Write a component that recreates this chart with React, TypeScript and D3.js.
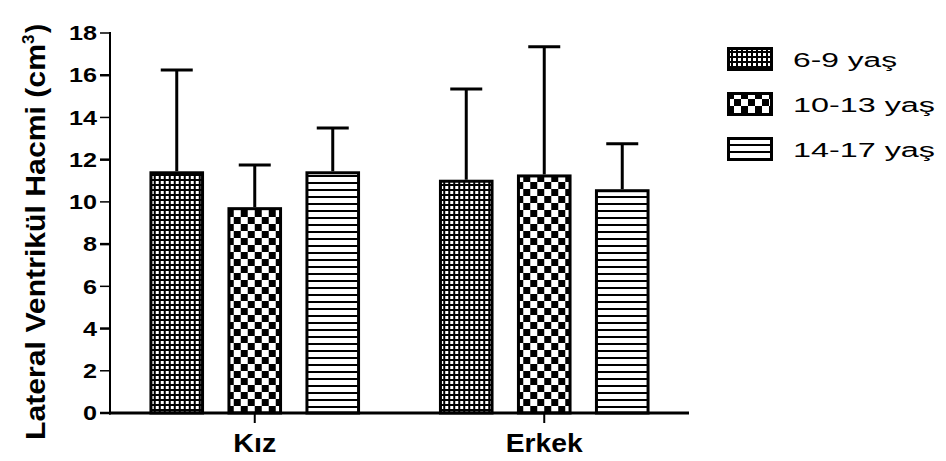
import React from 'react';
import * as d3 from 'd3';

const groups = ['Kız', 'Erkek'];
const ageGroups = ['6-9 yaş', '10-13 yaş', '14-17 yaş'];
// means and upper error (mean + SD) per group, in ageGroups order
const meanKiz = [11.45, 9.75, 11.45];
const meanErkek = [11.05, 11.3, 10.6];
const errKiz = [16.25, 11.75, 13.5];
const errErkek = [15.35, 17.35, 12.75];
const yTicks = [0, 2, 4, 6, 8, 10, 12, 14, 16, 18];

const means = [meanKiz, meanErkek];
const errs = [errKiz, errErkek];
const patternIds = ['pat-dots', 'pat-check', 'pat-lines'];

const W = 946;
const H = 461;
const margin = { top: 33, left: 110, bottom: 48 };
const plotRight = 689;

// the reference text is drawn wider than the font, so widths are forced
const groupLabelW: Record<string, number> = { 'Kız': 43, 'Erkek': 77 };
const legendLabelW = [104, 142, 142];

export default function App() {
  const y = d3.scaleLinear().domain([0, 18]).range([H - margin.bottom, margin.top]);
  const x0 = d3.scaleBand().domain(groups).range([margin.left, plotRight]).padding(0);
  const x1 = d3.scaleBand().domain(ageGroups).range([-117, 117]).paddingInner(0.3).paddingOuter(0.15);
  const y0 = y(0);

  return (
    <svg width={W} height={H} style={{ position: 'absolute', left: 0, top: 0, background: '#fff' }}
      fontFamily="'Liberation Sans', Arial, sans-serif">
      <defs>
        <pattern id="pat-dots" width={5} height={5} patternUnits="userSpaceOnUse">
          <rect width={5} height={5} fill="#000" />
          <rect x={1} y={1} width={3} height={3} fill="#fff" />
        </pattern>
        <pattern id="pat-check" width={14} height={14} patternUnits="userSpaceOnUse">
          <rect width={14} height={14} fill="#fff" />
          <rect x={0} y={0} width={7} height={7} fill="#000" />
          <rect x={7} y={7} width={7} height={7} fill="#000" />
        </pattern>
        <pattern id="pat-lines" width={8} height={7} patternUnits="userSpaceOnUse">
          <rect width={8} height={7} fill="#fff" />
          <rect x={0} y={0} width={8} height={2} fill="#000" />
        </pattern>
      </defs>

      {/* bars and error bars */}
      {groups.map((g, gi) => (
        <g key={g} transform={`translate(${x0(g)! + x0.bandwidth() / 2},0)`}>
          {ageGroups.map((a, ai) => {
            const bx = x1(a)!;
            const bw = x1.bandwidth();
            const cx = bx + bw / 2;
            const top = y(means[gi][ai]);
            const et = y(errs[gi][ai]);
            return (
              <g key={a}>
                <line x1={cx} x2={cx} y1={top} y2={et} stroke="#000" strokeWidth={3} />
                <line x1={cx - 16} x2={cx + 16} y1={et} y2={et} stroke="#000" strokeWidth={3} />
                <rect x={bx + 1.5} y={top + 1.5} width={bw - 3} height={y0 - top - 1.5}
                  fill={`url(#${patternIds[ai]})`} stroke="#000" strokeWidth={3} />
              </g>
            );
          })}
        </g>
      ))}

      {/* y axis */}
      <line x1={margin.left} x2={margin.left} y1={margin.top - 1} y2={y0 + 1.5} stroke="#000" strokeWidth={2} />
      {yTicks.map((t, i) => (
        <g key={t} transform={`translate(0,${y(t)})`}>
          <line x1={margin.left - 10} x2={margin.left} stroke="#000" strokeWidth={i % 2 === 0 ? 2.5 : 1.5} />
          <text x={margin.left - 13} dy="0.36em" textAnchor="end" fontSize={20} fontWeight="bold"
            textLength={String(t).length * 14} lengthAdjust="spacingAndGlyphs">{t}</text>
        </g>
      ))}

      {/* x axis */}
      <line x1={margin.left - 1} x2={plotRight} y1={y0} y2={y0} stroke="#000" strokeWidth={3} />
      {groups.map(g => {
        const cx = x0(g)! + x0.bandwidth() / 2;
        return (
          <g key={g}>
            <line x1={cx} x2={cx} y1={y0} y2={y0 + 10} stroke="#000" strokeWidth={2} />
            <text x={cx} y={y0 + 39} textAnchor="middle" fontSize={25} fontWeight="bold"
              textLength={groupLabelW[g]} lengthAdjust="spacingAndGlyphs">{g}</text>
          </g>
        );
      })}

      {/* y label */}
      <g transform="translate(45,226) rotate(-90)">
        <text x={-214} y={0} fontSize={27} fontWeight="bold" textLength={396} lengthAdjust="spacingAndGlyphs">
          Lateral Ventrikül Hacmi (cm
        </text>
        <text x={182} y={-11} fontSize={17} fontWeight="bold">3</text>
        <text x={193} y={0} fontSize={27} fontWeight="bold">)</text>
      </g>

      {/* legend */}
      {ageGroups.map((a, i) => (
        <g key={a} transform={`translate(727,${47 + i * 45})`}>
          <rect x={1.5} y={1.5} width={43} height={21} fill={`url(#${patternIds[i]})`} stroke="#000" strokeWidth={3} />
          <text x={66} y={20} fontSize={20} textLength={legendLabelW[i]} lengthAdjust="spacingAndGlyphs">{a}</text>
        </g>
      ))}
    </svg>
  );
}
